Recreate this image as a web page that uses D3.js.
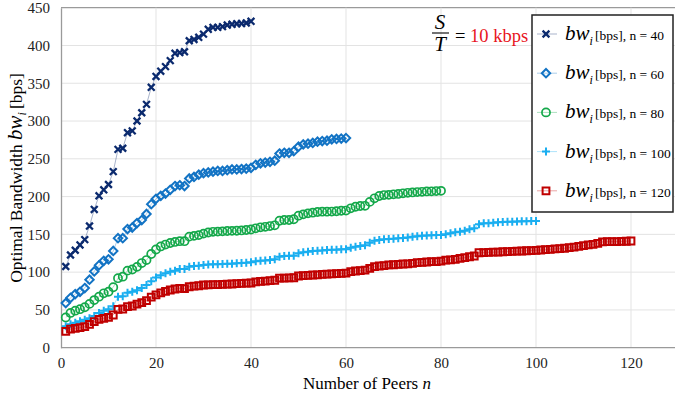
<!DOCTYPE html>
<html>
<head>
<meta charset="utf-8">
<script src="https://cdn.jsdelivr.net/npm/d3@7"></script>
<style>
  body { margin: 0; background: #fff; }
  text { font-family: "Liberation Serif", "DejaVu Serif", serif; }
</style>
</head>
<body>
<script>
// optimal bandwidth per peer, one array per network size
var bw40 = [107.5, 122.7, 129, 136, 143, 161, 183, 201, 209, 216,
  233, 262.5, 264, 284.6, 287, 300, 311, 322, 344.6, 359,
  366, 372, 380, 389.6, 390.5, 391.7, 406.3, 408, 410.8, 415,
  421.4, 424, 424, 425, 427, 428, 428.8, 429, 429.8, 432];

var bw60 = [59, 66, 71, 74, 79, 90, 101, 109, 115, 117,
  128, 145, 145, 157, 159, 165, 169, 177, 190, 197,
  201, 204, 209, 214, 215, 214, 224, 226, 229, 231,
  232, 233, 234, 234, 235, 236, 236, 236.5, 237, 238,
  242, 244, 245, 246, 247.5, 257, 258, 258, 260, 266,
  269, 270, 271, 272.6, 273.5, 274, 275.8, 276.3, 276.8, 277.5];

var bw80 = [40, 46, 49, 51, 53.5, 58, 63, 67.5, 72, 74,
  80, 92, 94, 102, 103.5, 107, 112, 116, 124, 130,
  134, 136.5, 138.6, 140, 141, 141, 147, 148, 149, 151,
  152.5, 153.4, 153.6, 154, 154.4, 154.6, 154.8, 155.2, 155.8, 156.4,
  158, 159.3, 160, 161, 162, 168, 169, 169, 170, 174.7,
  176.5, 177.8, 178.7, 179.6, 180, 180, 180.2, 180.6, 181.3, 181.5,
  184.5, 186.6, 187.5, 187.8, 193, 197.7, 200.8, 202, 202.3, 203,
  203.5, 204.3, 205, 205.5, 206, 206.3, 206.8, 207, 207.3, 207.6];

var bw100 = [28.5, 31, 33, 35, 37, 39, 42, 46, 49, 51,
  55, 67.5, 68, 72.8, 74, 76, 79, 83, 88, 93,
  96, 98.5, 100.6, 102, 104, 104, 107, 108, 108.4, 109.5,
  110, 110.3, 110.5, 110.8, 111, 111.2, 111.7, 112, 112.5, 113,
  114.3, 115, 115.3, 116, 117, 120.5, 121.4, 121.6, 121.8, 125,
  126.2, 127, 128, 128.4, 128.8, 129.3, 129.5, 129.7, 130.2, 130.4,
  132.4, 133.7, 134.5, 135.5, 139, 141.6, 142.5, 143.4, 143.8, 144.3,
  144.7, 145.2, 146, 147, 147.6, 148.2, 148.4, 148.7, 149, 149.2,
  150, 151.4, 152.7, 153.6, 154.9, 156.7, 158, 163.3, 164.6, 164.8,
  165.5, 165.9, 166.4, 166.6, 166.8, 167, 167.3, 167.5, 167.7, 167.8];

var bw120 = [21.5, 24.5, 25.6, 26.5, 27.8, 31, 34.4, 37.6, 38.9, 40.2,
  43.3, 50.8, 51.2, 54.3, 55.2, 57.8, 59.6, 62.2, 67, 70,
  72.5, 74.5, 76.4, 77.7, 78.6, 78.2, 80.7, 81.6, 82, 83,
  83.1, 83.4, 83.6, 83.9, 84.1, 84.3, 84.8, 85.2, 85.4, 85.6,
  87, 87.8, 88, 88.7, 89.3, 92, 92.2, 92.3, 92.6, 94.9,
  95.3, 95.8, 96.2, 96.5, 97.1, 97.5, 97.7, 98, 98.4, 98.6,
  100.6, 101.5, 102, 102.8, 105, 107.2, 108.1, 108.5, 109.5, 109.8,
  110.4, 110.8, 111, 111.7, 112.5, 112.9, 113.4, 113.8, 114, 114.7,
  116, 116.3, 117, 118.3, 119.1, 120.4, 121.4, 125.7, 125.9, 126.2,
  126.4, 126.6, 127, 127.2, 127.5, 127.8, 128, 128.3, 128.6, 128.9,
  129.3, 129.7, 130.2, 130.7, 131.1, 131.6, 132.4, 133.2, 134, 135,
  136, 136.8, 138.2, 140, 140.3, 140.4, 140.5, 140.7, 140.9, 141.2];

var seriesN = [40, 60, 80, 100, 120];
var peerTicks = [0, 20, 40, 60, 80, 100, 120];
var bwTicks = [0, 50, 100, 150, 200, 250, 300, 350, 400, 450];

var width = 675, height = 398;
var margin = {top: 7.7, left: 61, bottom: 50.3};

var x = d3.scaleLinear().domain([0, 140]).range([margin.left, margin.left + 140 * 4.75]);
var y = d3.scaleLinear().domain([0, 450]).range([height - margin.bottom, margin.top]);

var svg = d3.select("body").append("svg")
    .attr("width", width)
    .attr("height", height);

// grid
svg.append("g")
  .selectAll("line")
  .data(bwTicks.slice(1))
  .enter().append("line")
    .attr("x1", x(0)).attr("x2", width)
    .attr("y1", function(d) { return y(d); })
    .attr("y2", function(d) { return y(d); })
    .attr("stroke", function(d) { return d == 450 ? "#9a9a9a" : "#e3e3e3"; })
    .attr("stroke-width", function(d) { return d == 450 ? 1.3 : 1; });

svg.append("g")
  .selectAll("line")
  .data(peerTicks.slice(1))
  .enter().append("line")
    .attr("x1", function(d) { return x(d); })
    .attr("x2", function(d) { return x(d); })
    .attr("y1", y(0)).attr("y2", y(450))
    .attr("stroke", "#e3e3e3");

// axes
var xAxis = svg.append("g")
    .attr("transform", "translate(0," + y(0) + ")")
    .call(d3.axisBottom(x).tickValues(peerTicks).tickSize(0).tickPadding(10));
xAxis.select(".domain").attr("d", "M" + x(0) + ",0H" + width).attr("stroke", "#9a9a9a").attr("stroke-width", 1.3);
xAxis.selectAll("text").attr("font-size", 15).attr("fill", "#222")
    .style("font-family", "Liberation Serif");

var yAxis = svg.append("g")
    .attr("transform", "translate(" + x(0) + ",0)")
    .call(d3.axisLeft(y).tickValues(bwTicks).tickSize(0).tickPadding(11));
yAxis.select(".domain").attr("stroke", "#9a9a9a").attr("stroke-width", 1.3);
yAxis.selectAll("text").attr("font-size", 15).attr("fill", "#222")
    .style("font-family", "Liberation Serif");

var markers = {
  40: {color: "#0b2a6e", path: "M-3.4,-3.4L3.4,3.4M-3.4,3.4L3.4,-3.4", width: 2.3},
  60: {color: "#1273c4", path: "M0,-4.2L4.2,0L0,4.2L-4.2,0Z", width: 2},
  80: {color: "#14a84a", path: d3.symbol().type(d3.symbolCircle).size(52)(), width: 1.7},
  100: {color: "#1aaef0", path: "M-4,0H4M0,-4V4", width: 2},
  120: {color: "#c00000", path: "M-3.4,-3.4H3.4V3.4H-3.4Z", width: 2}
};

var allSeries = {40: bw40, 60: bw60, 80: bw80, 100: bw100, 120: bw120};

var line = d3.line()
    .x(function(d, i) { return x(i + 1); })
    .y(function(d) { return y(d); });

seriesN.forEach(function(n) {
  var m = markers[n];
  var vals = allSeries[n];
  svg.append("path")
      .datum(vals)
      .attr("d", line)
      .attr("fill", "none")
      .attr("stroke", m.color)
      .attr("stroke-opacity", 0.45)
      .attr("stroke-width", 0.8);
  svg.append("g")
    .selectAll("path")
    .data(vals)
    .enter().append("path")
      .attr("transform", function(d, i) { return "translate(" + x(i + 1) + "," + y(d) + ")"; })
      .attr("d", m.path)
      .attr("fill", "none")
      .attr("stroke", m.color)
      .attr("stroke-width", m.width);
});

// S/T annotation
var ann = svg.append("g");
ann.append("text").attr("x", 440).attr("y", 29).attr("text-anchor", "middle")
    .attr("font-size", 21).attr("font-style", "italic").text("S");
ann.append("line").attr("x1", 432).attr("x2", 449).attr("y1", 33).attr("y2", 33)
    .attr("stroke", "#000").attr("stroke-width", 1.1);
ann.append("text").attr("x", 440).attr("y", 51).attr("text-anchor", "middle")
    .attr("font-size", 21).attr("font-style", "italic").text("T");
var eq = ann.append("text").attr("x", 455).attr("y", 42).attr("font-size", 18.5);
eq.append("tspan").text("= ");
eq.append("tspan").attr("fill", "#e8141c").text("10 kbps");

// legend
var legend = svg.append("g");
legend.append("rect")
    .attr("x", 532).attr("y", 15).attr("width", 141).attr("height", 197)
    .attr("fill", "#fff").attr("stroke", "#222").attr("stroke-width", 1.5);

seriesN.forEach(function(n, i) {
  var m = markers[n];
  var ly = 34 + i * 39.2;
  legend.append("line")
      .attr("x1", 537).attr("x2", 557).attr("y1", ly).attr("y2", ly)
      .attr("stroke", m.color).attr("stroke-opacity", 0.45).attr("stroke-width", 0.8);
  legend.append("path")
      .attr("transform", "translate(546," + ly + ")")
      .attr("d", m.path)
      .attr("fill", "none")
      .attr("stroke", m.color)
      .attr("stroke-width", m.width);
  var t = legend.append("text").attr("x", 565).attr("y", ly + 6);
  t.append("tspan").attr("font-size", 21).attr("font-style", "italic").text("bw");
  t.append("tspan").attr("font-size", 12).attr("font-style", "italic").attr("dy", 5).text("i");
  t.append("tspan").attr("font-size", 13.5).attr("dy", -5).attr("x", 595).text("[bps], n = " + n);
});

// axis titles
var xt = svg.append("text")
    .attr("x", 367).attr("y", 389)
    .attr("text-anchor", "middle")
    .attr("font-size", 17);
xt.append("tspan").text("Number of Peers ");
xt.append("tspan").attr("font-style", "italic").text("n");

var yt = svg.append("text")
    .attr("transform", "translate(22,178) rotate(-90)")
    .attr("text-anchor", "middle")
    .attr("font-size", 17.5);
yt.append("tspan").text("Optimal Bandwidth ");
yt.append("tspan").attr("font-style", "italic").attr("font-size", 21).text("bw");
yt.append("tspan").attr("font-style", "italic").attr("font-size", 12).attr("dy", 4).text("i");
yt.append("tspan").attr("dy", -4).attr("dx", 3).text("[bps]");
</script>
</body>
</html>
